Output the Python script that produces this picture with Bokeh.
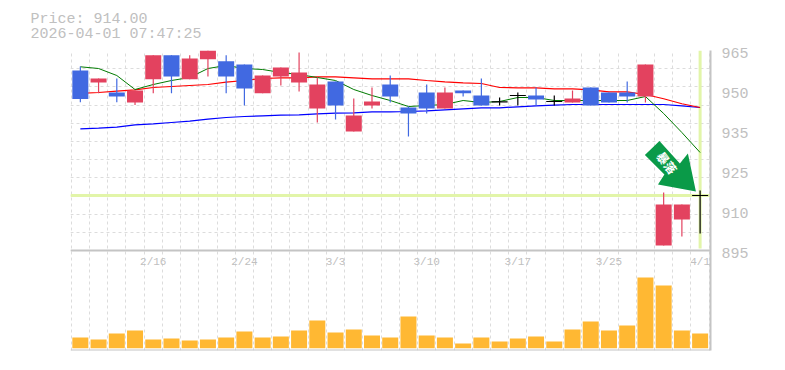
from bokeh.plotting import figure
from bokeh.models import Range1d, FixedTicker, LinearAxis, Span, Title, Grid, ColumnDataSource
from bokeh.core.properties import value
from bokeh.embed import file_html
from bokeh.resources import INLINE

body_a = [958,955.2,950.3,951,963.3,963.3,962.2,965,961.2,960.1,956.25,959.05,957.3,953.1,954.15,942.25,947.15,953.1,945.05,950.3,950.3,951,949.25,947.05,949.25,949.25,947.15,948.2,952.05,950.3,950.3,960.1,911.1,911.1,914.25]
body_b = [948,953.8,948.9,946.8,954.9,955.9,954.9,961.9,955.9,951.7,950,955.9,953.8,944.7,945.75,936.65,945.75,948.9,942.95,944.7,944.7,950,945.75,947.05,949.25,947.85,947.15,946.8,945.75,946.8,948.9,948.9,896.75,905.85,914.25]
high = [959.4,955.2,955.2,951,963.3,963.3,963.3,965,963.3,960.1,956.25,959.05,964.3,955.55,954.15,948.2,952.05,956.25,945.4,953.1,952.05,951,955.2,948.55,950.3,952.05,949.25,951,952.05,950.3,954.15,960.1,915.3,911.1,916]
low = [946.9,950,946.9,945.9,950,950,954.9,955.9,950,945.75,950,952.75,950.65,939.8,940.85,936.65,944.7,946.8,934.9,942.95,944.7,948.9,945.75,945.75,945.75,945.75,945.75,946.8,945.75,946.8,946.8,946.8,896.75,899.9,900.95]
kinds = list("brbrrbrrbbrrrrbrrbbbrbbkkbkrbbbrrrk")
ma_short = [959.3,958.7,956.25,951.35,953.1,954.5,955.55,958.7,959.75,958.7,958.35,957.3,956.6,955.55,954.5,951.35,949.25,947.5,945.4,945.75,946.1,947.5,946.8,947.15,948.55,948.55,947.5,947.5,947.5,947.5,947.5,948.9,942.95,936.3,929.3]
ma_mid = [950,950.3,950.75,951.2,952.05,952.4,952.75,953.1,953.9,954.5,955.2,955.45,955.45,955.8,955.8,955.45,955.1,955.1,955.1,954.5,954.05,953.7,953.45,952.05,951.95,951.95,951.6,951.6,951.25,950.55,950.55,949.6,948.1,946.35,945.05]
ma_long = [937.6,937.85,938.15,938.95,939.3,939.8,940.3,941,941.55,941.9,942.15,942.4,942.5,942.8,943.1,943.2,943.5,943.55,943.65,943.9,944.25,944.6,944.95,944.95,945.3,945.6,945.9,946.1,946.1,946.1,946.1,946.1,946.1,945.65,945.05]
volume = [10.7,8.7,14.7,17.7,8.7,9.7,7.7,8.7,10.7,16.7,10.7,11.7,17.7,27.7,15.7,18.7,12.7,10.7,31.7,12.7,10.7,4.7,10.7,6.7,9.7,11.7,6.7,18.7,26.7,17.7,22.7,70.7,62.7,17.7,14.7]
date_idx = [4,9,14,19,24,29,34]
date_txt = ["2/16","2/24","3/3","3/10","3/17","3/25","4/1"]
price_ticks = [964.3,950.3,936.3,922.3,908.3,894.3]
price_text = ["965","950","935","925","910","895"]
last_price = 914.25
headline = "Price: 914.00"
stamp = "2026-04-01 07:47:25"
arrow_label = "暴落"
arrow_x = [31.77,30.97,32.04,31.69,33.77,33.33,32.89]
arrow_y = [933.3,928.4,921.6,918.1,915.65,928.95,925.45]

RED, BLUE, BLACK = "#E3425F", "#4169E1", "#000000"
GRID, FRAME, TXT, CROSS = "#dcdcdc", "#c4c4c4", "#c0c0c0", "#e2f5a9"
MONO = "Liberation Mono"
colmap = {"r": RED, "b": BLUE, "k": BLACK}
colors = [colmap[k] for k in kinds]
xs = list(range(len(volume)))
grid_x = [i - 0.5 for i in range(36)]
grid_y = [895 + k * 70 / 11 for k in range(12)]

p = figure(width=785, height=362, output_backend="svg", toolbar_location=None,
           x_range=Range1d(-0.54, 34.57), y_range=Range1d(860, 965), x_axis_type=None, y_axis_type=None,
           min_border_left=70, min_border_right=75, min_border_top=50, min_border_bottom=12,
           outline_line_color=None, background_fill_color="white", border_fill_color="white")
p.extra_y_ranges = {"vol": Range1d(-2.3, 297.7)}
p.add_layout(LinearAxis(ticker=FixedTicker(ticks=price_ticks),
                major_label_overrides={t: s for t, s in zip(price_ticks, price_text)},
                major_tick_line_color=None, minor_tick_line_color=None,
                axis_line_color=FRAME, axis_line_width=2,
                major_label_text_font=MONO, major_label_text_font_size="15px",
                major_label_text_color=TXT, major_label_standoff=5), "right")
p.add_layout(Grid(dimension=0, ticker=FixedTicker(ticks=grid_x), grid_line_color=GRID, grid_line_dash="3 3"))
p.add_layout(Grid(dimension=1, ticker=FixedTicker(ticks=grid_y), grid_line_color=GRID, grid_line_dash="3 3"))
p.add_layout(Span(location=895, dimension="width", line_color=FRAME, line_width=2))
p.add_layout(Span(location=-2.3, y_range_name="vol", dimension="width", line_color=FRAME, line_width=2))
p.segment([-0.54], [last_price], [34.57], [last_price], line_color=CROSS, line_width=3)
p.segment([34], [965], [34], [895.7], line_color=CROSS, line_width=3)

p.line(xs, ma_long, line_color="#0000ff", line_width=1.2)
p.line(xs, ma_mid, line_color="#ff0000", line_width=1.2)
p.line(xs, ma_short, line_color="#007a00", line_width=1)

src = ColumnDataSource(dict(x=xs, a=body_a, b=body_b, h=high, l=low, c=colors))
p.segment("x", "h", "x", "l", source=src, line_color="c", line_width=1.2)
p.vbar("x", 0.878, "b", "a", source=src, fill_color="c", line_color=None)
dj = [i for i, k in enumerate(kinds) if k == "k"]
p.segment([i - 0.44 for i in dj], [body_a[i] for i in dj], [i + 0.44 for i in dj], [body_a[i] for i in dj],
          line_color=BLACK, line_width=1.2)

p.patch(arrow_x, arrow_y, fill_color="#0a9a48", line_color=None)
p.text([32.21], [925.8], text=[arrow_label], angle=-0.92, text_align="center", text_baseline="middle",
       text_color="white", text_font=value("Noto Sans CJK JP"), text_font_size="12px", text_font_style="bold")

for line, gap in ((stamp, 16), (headline, -24)):
    p.add_layout(Title(text=line, align="left", offset=-40, standoff=gap, text_font=MONO, text_font_style="normal",
                       text_font_size="15px", text_color=TXT), "above")

p.vbar(xs, 0.878, volume, 0, y_range_name="vol", fill_color="#FFB833", line_color=None)
p.text(date_idx, [86.5] * len(date_idx), y_range_name="vol", text=date_txt, text_align="center", text_baseline="middle",
       text_color=TXT, text_font=value(MONO), text_font_size="11px")

open("out.html", "w").write(file_html(p, INLINE))
